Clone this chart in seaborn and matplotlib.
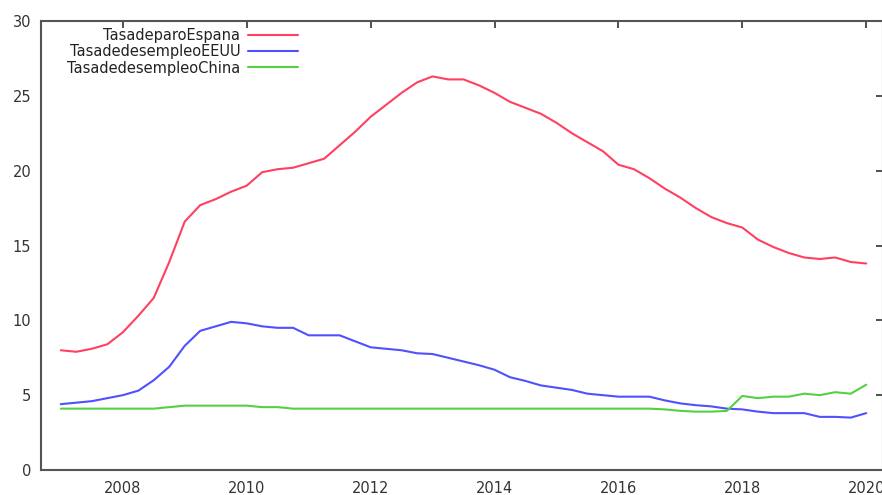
import numpy as np
import pandas as pd
import matplotlib
matplotlib.use("Agg")
import matplotlib.pyplot as plt
import seaborn as sns

# Quarterly time points 2007.0 .. 2020.0
years = [2007 + 0.25 * i for i in range(53)]

spain = [8.0, 7.9, 8.1, 8.4, 9.2, 10.3, 11.5, 13.9, 16.6, 17.7, 18.1, 18.6, 19.0,   # 2007.0-2010.0
         19.9, 20.1, 20.2, 20.5, 20.8, 21.7, 22.6, 23.6, 24.4, 25.2, 25.9, 26.3,   # 2010.25-2013.0
         26.1, 26.1, 25.7, 25.2, 24.6, 24.2, 23.8, 23.2, 22.5, 21.9, 21.3, 20.4,   # 2013.25-2016.0
         20.1, 19.5, 18.8, 18.2, 17.5, 16.9, 16.5, 16.2, 15.4, 14.9, 14.5, 14.2,   # 2016.25-2019.0
         14.1, 14.2, 13.9, 13.8]                                                   # 2019.25-2020.0
usa = [4.4, 4.5, 4.6, 4.8, 5.0, 5.3, 6.0, 6.9, 8.3, 9.3, 9.6, 9.9, 9.8,
       9.6, 9.5, 9.5, 9.0, 9.0, 9.0, 8.6, 8.2, 8.1, 8.0, 7.8, 7.75,
       7.5, 7.25, 7.0, 6.7, 6.2, 5.95, 5.65, 5.5, 5.35, 5.1, 5.0, 4.9,
       4.9, 4.9, 4.65, 4.45, 4.33, 4.25, 4.1, 4.05, 3.9, 3.8, 3.8, 3.8,
       3.55, 3.55, 3.5, 3.8]
china = [4.1, 4.1, 4.1, 4.1, 4.1, 4.1, 4.1, 4.2, 4.3, 4.3, 4.3, 4.3, 4.3,
         4.2, 4.2, 4.1, 4.1, 4.1, 4.1, 4.1, 4.1, 4.1, 4.1, 4.1, 4.1,
         4.1, 4.1, 4.1, 4.1, 4.1, 4.1, 4.1, 4.1, 4.1, 4.1, 4.1, 4.1,
         4.1, 4.1, 4.05, 3.95, 3.9, 3.9, 3.95, 4.95, 4.8, 4.9, 4.9, 5.1,
         5.0, 5.2, 5.1, 5.7]

labels = ["TasadeparoEspana", "TasadedesempleoEEUU", "TasadedesempleoChina"]
colors = ["#ff4060", "#5050ff", "#55d045"]
x_ticks = [2008, 2010, 2012, 2014, 2016, 2018, 2020]
y_ticks = [0, 5, 10, 15, 20, 25, 30]

n = min(len(years), len(spain), len(usa), len(china))
df = pd.DataFrame({
    "year": years[:n] * 3,
    "value": spain[:n] + usa[:n] + china[:n],
    "serie": [labels[0]] * n + [labels[1]] * n + [labels[2]] * n,
})

sns.set_style("white")
plt.rcParams["font.family"] = ["DejaVu Sans"]

fig = plt.figure(figsize=(8.82, 4.95), dpi=100)
ax = fig.add_axes([0.0465, 0.0505, 0.9546, 0.907])

sns.lineplot(data=df, x="year", y="value", hue="serie", hue_order=labels,
             palette=colors, linewidth=1.5, ax=ax, legend=True)

ax.set_xlim(2006.68, 2020.27)
ax.set_ylim(0, 30)
ax.set_xticks(x_ticks)
ax.set_yticks(y_ticks)
ax.set_xlabel("")
ax.set_ylabel("")

for s in ax.spines.values():
    s.set_color("#555555")
    s.set_linewidth(1.5)
    s.set_visible(True)

ax.tick_params(direction="in", length=5, width=1.2, color="#333333",
               top=True, right=True, labelsize=10.5, labelcolor="#333333")
ax.tick_params(axis="x", pad=8)
ax.tick_params(axis="y", pad=7)

leg = ax.legend(loc="upper left", bbox_to_anchor=(0.024, 0.997), frameon=False,
                markerfirst=False, fontsize=10.5, handlelength=3.4,
                labelspacing=0.08, handletextpad=0.55, borderaxespad=0)
for t in leg.get_texts():
    t.set_color("#222222")
leg._legend_box.align = "right"
for vp in leg._legend_box.get_children()[1].get_children():
    vp.align = "right"

fig.savefig("out.png", dpi=100)
